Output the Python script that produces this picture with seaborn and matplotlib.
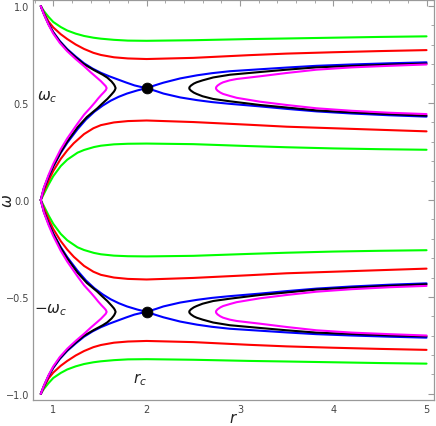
import numpy as np
import pandas as pd
import matplotlib.pyplot as plt
import seaborn as sns

# ---------------------------------------------------
# Curve data (upper half, omega > 0); lower half is the mirror image
# ---------------------------------------------------

# green, outer curve from (r0, 1)
green_top_r = [0.866, 0.9, 0.95, 1.0, 1.08, 1.15, 1.24, 1.33, 1.43, 1.51, 1.65, 1.8, 2.0, 2.5, 3.1, 3.5, 4.0, 4.5, 5.0]
green_top_w = [1.0, 0.974, 0.944, 0.918, 0.892, 0.874, 0.858, 0.846, 0.837, 0.832, 0.826, 0.822, 0.821, 0.824, 0.83, 0.833, 0.837, 0.841, 0.844]

# green, inner curve from (r0, 0)
green_low_r = [0.866, 0.9, 0.95, 1.0, 1.08, 1.15, 1.26, 1.33, 1.436, 1.51, 1.65, 1.8, 2.0, 2.5, 3.1, 3.5, 4.0, 4.5, 5.0]
green_low_w = [0.0, 0.032, 0.08, 0.123, 0.175, 0.208, 0.244, 0.258, 0.273, 0.28, 0.287, 0.29, 0.291, 0.288, 0.278, 0.272, 0.266, 0.262, 0.259]

# red
red_top_r = [0.866, 0.9, 0.95, 1.0, 1.08, 1.15, 1.24, 1.33, 1.43, 1.51, 1.65, 1.8, 2.0, 2.5, 3.1, 3.5, 4.0, 4.5, 5.0]
red_top_w = [1.0, 0.965, 0.92, 0.89, 0.855, 0.83, 0.802, 0.779, 0.759, 0.748, 0.736, 0.73, 0.727, 0.733, 0.747, 0.755, 0.762, 0.768, 0.773]

red_low_r = [0.866, 0.9, 0.95, 1.0, 1.08, 1.15, 1.22, 1.33, 1.43, 1.51, 1.65, 1.8, 2.0, 2.5, 3.1, 3.5, 4.0, 4.5, 5.0]
red_low_w = [0.0, 0.045, 0.1, 0.15, 0.212, 0.256, 0.293, 0.34, 0.37, 0.386, 0.40, 0.407, 0.41, 0.402, 0.388, 0.378, 0.37, 0.362, 0.354]

# blue separatrix: upper-left -> critical point -> lower-right
blue_a_r = [0.866, 0.9, 0.95, 1.0, 1.07, 1.15, 1.24, 1.33, 1.42, 1.51, 1.6, 1.69, 1.78, 1.87, 1.94, 2.0,
            2.1, 2.18, 2.36, 2.54, 2.7, 2.89, 3.21, 3.5, 3.82, 4.2, 4.6, 5.0]
blue_a_w = [1.0, 0.96, 0.908, 0.866, 0.82, 0.778, 0.74, 0.705, 0.678, 0.656, 0.638, 0.622, 0.606, 0.591, 0.583, 0.577,
            0.562, 0.549, 0.529, 0.515, 0.505, 0.496, 0.483, 0.470, 0.457, 0.446, 0.437, 0.430]

# blue separatrix: lower-left -> critical point -> upper-right
blue_b_r = [0.866, 0.9, 0.95, 1.0, 1.08, 1.15, 1.26, 1.35, 1.44, 1.53, 1.615, 1.7, 1.79, 1.9, 2.0,
            2.1, 2.18, 2.36, 2.54, 2.7, 2.89, 3.21, 3.5, 3.82, 4.2, 4.6, 5.0]
blue_b_w = [0.0, 0.06, 0.12, 0.172, 0.243, 0.295, 0.365, 0.415, 0.455, 0.487, 0.512, 0.532, 0.549, 0.565, 0.577,
            0.593, 0.605, 0.627, 0.643, 0.654, 0.664, 0.674, 0.683, 0.692, 0.699, 0.705, 0.710]

# black, left closed branch
black_l_r = [0.866, 0.9, 0.95, 1.0, 1.07, 1.15, 1.24, 1.33, 1.436, 1.53, 1.579, 1.625, 1.65, 1.66, 1.668,
             1.66, 1.65, 1.625, 1.579, 1.52, 1.47, 1.36, 1.26, 1.15, 1.08, 1.0, 0.95, 0.9, 0.866]
black_l_w = [1.0, 0.959, 0.906, 0.863, 0.816, 0.774, 0.735, 0.70, 0.67, 0.646, 0.631, 0.611, 0.596, 0.587, 0.577,
             0.567, 0.559, 0.545, 0.521, 0.495, 0.472, 0.428, 0.375, 0.302, 0.248, 0.176, 0.123, 0.062, 0.0]

# black, right open branch
black_r_r = [5.0, 4.6, 4.2, 3.82, 3.5, 3.215, 2.893, 2.714, 2.6, 2.536, 2.505, 2.475, 2.46, 2.457,
             2.46, 2.475, 2.505, 2.536, 2.6, 2.714, 2.893, 3.215, 3.5, 3.82, 4.2, 4.6, 5.0]
black_r_w = [0.703, 0.698, 0.691, 0.684, 0.672, 0.660, 0.646, 0.632, 0.617, 0.607, 0.600, 0.590, 0.582, 0.577,
             0.572, 0.564, 0.554, 0.547, 0.535, 0.521, 0.509, 0.490, 0.477, 0.462, 0.452, 0.443, 0.435]

# magenta, left closed branch
mag_l_r = [0.866, 0.9, 0.95, 1.0, 1.07, 1.15, 1.24, 1.33, 1.40, 1.472, 1.512, 1.542, 1.562, 1.572,
           1.563, 1.545, 1.515, 1.48, 1.45, 1.40, 1.33, 1.257, 1.15, 1.08, 1.0, 0.95, 0.9, 0.866]
mag_l_w = [1.0, 0.957, 0.903, 0.858, 0.81, 0.767, 0.727, 0.69, 0.659, 0.629, 0.612, 0.597, 0.587, 0.577,
           0.567, 0.557, 0.542, 0.523, 0.505, 0.477, 0.44, 0.392, 0.318, 0.262, 0.186, 0.13, 0.065, 0.0]

# magenta, right open branch
mag_r_r = [5.0, 4.6, 4.2, 3.82, 3.5, 3.215, 2.965, 2.89, 2.82, 2.79, 2.76, 2.746, 2.743,
           2.746, 2.76, 2.79, 2.82, 2.89, 2.965, 3.215, 3.5, 3.82, 4.2, 4.6, 5.0]
mag_r_w = [0.699, 0.692, 0.684, 0.672, 0.655, 0.638, 0.624, 0.617, 0.607, 0.600, 0.590, 0.582, 0.577,
           0.572, 0.564, 0.554, 0.547, 0.537, 0.527, 0.507, 0.49, 0.473, 0.46, 0.45, 0.443]

# critical points
crit_r = [2.0, 2.0]
crit_w = [0.577, -0.577]

curves = [
    (green_top_r, green_top_w, "#00ff00"),
    (green_low_r, green_low_w, "#00ff00"),
    (red_top_r, red_top_w, "#ff0000"),
    (red_low_r, red_low_w, "#ff0000"),
    (blue_a_r, blue_a_w, "#0000ff"),
    (blue_b_r, blue_b_w, "#0000ff"),
    (black_l_r, black_l_w, "#000000"),
    (black_r_r, black_r_w, "#000000"),
    (mag_l_r, mag_l_w, "#ff00ff"),
    (mag_r_r, mag_r_w, "#ff00ff"),
]

# ---------------------------------------------------
# Plot
# ---------------------------------------------------
sns.set_style("white")
plt.rcParams['font.family'] = ['DejaVu Sans']
plt.rcParams['mathtext.fontset'] = 'dejavusans'

fig, ax = plt.subplots(figsize=(4.36, 4.27), dpi=100)
fig.subplots_adjust(left=0.0764, right=0.9954, bottom=0.0616, top=0.997)

for r, w, c in curves:
    for sign in (1, -1):
        sns.lineplot(x=r, y=[sign * v for v in w], sort=False, estimator=None,
                     color=c, lw=1.5, ax=ax)

sns.scatterplot(x=crit_r, y=crit_w, color="black", s=60, edgecolor="black", zorder=5, ax=ax)

ax.set_xlim(0.786, 5.08)
ax.set_ylim(-1.03, 1.03)

ax.set_xticks([1, 2, 3, 4, 5])
ax.set_xticks(np.arange(0.8, 5.01, 0.2), minor=True)
ax.set_yticks([-1.0, -0.5, 0.0, 0.5, 1.0])
ax.set_yticklabels(["\u22121.0", "\u22120.5", "0.0", "0.5", "1.0"])
ax.set_yticks(np.arange(-1.0, 1.01, 0.1), minor=True)

ax.tick_params(which="both", direction="in", top=True, right=True, colors="#999999",
               labelcolor="#444444", labelsize=7, pad=3)
ax.tick_params(which="major", length=4, width=0.8)
ax.tick_params(which="minor", length=2.2, width=0.6)
for s in ax.spines.values():
    s.set_color("#999999")
    s.set_linewidth(0.9)

ax.set_xlabel("$r$", fontsize=11, color="#222222")
ax.xaxis.set_label_coords(0.5, -0.027)
ax.set_ylabel(r"$\omega$", fontsize=11, color="#222222", rotation=90)
ax.yaxis.set_label_coords(-0.045, 0.5)

ax.text(0.94, 0.536, r"$\omega_c$", fontsize=11, ha="center", va="center", color="#222222")
ax.text(0.97, -0.562, r"$-\omega_c$", fontsize=11, ha="center", va="center", color="#222222")
ax.text(1.93, -0.92, r"$r_c$", fontsize=11, ha="center", va="center", color="#222222")

plt.savefig("out.png", dpi=100)
